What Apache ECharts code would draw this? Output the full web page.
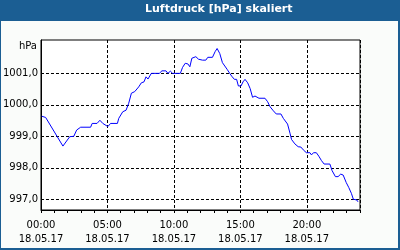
<!DOCTYPE html>
<html>
<head>
<meta charset="utf-8">
<script src="https://cdn.jsdelivr.net/npm/echarts@6/dist/echarts.min.js"></script>
<style>
html,body{margin:0;padding:0;background:#fafcfa;}
#c{width:400px;height:250px;}
</style>
</head>
<body>
<div id="c"></div>
<script>
var titleText = 'Luftdruck [hPa] skaliert';
var unitLabel = 'hPa';
var dateLabel = '18.05.17';
var xTickHours = [0, 5, 10, 15, 20];
var yTickValues = [997, 998, 999, 1000, 1001];
var times = ['00:03','00:21','01:39','02:10','02:28','02:41','02:59','03:44','03:51','04:13','04:26','04:39','05:02','05:14','05:45','05:51','06:09','06:24','06:36','06:48','07:03','07:21','07:33','07:45','07:54','08:03','08:18','08:54','09:06','09:24','09:33','09:44','09:54','10:29','10:39','10:51','11:03','11:12','11:21','11:30','11:39','11:51','12:00','12:09','12:24','12:33','12:54','13:06','13:15','13:27','13:39','13:48','14:00','14:12','14:21','14:33','14:43','14:51','15:03','15:12','15:21','15:33','15:44','15:55','16:06','16:15','16:24','16:51','17:03','17:14','17:29','17:42','18:03','18:14','18:33','18:44','18:51','19:06','19:21','19:33','19:44','19:58','20:14','20:21','20:30','20:43','20:54','21:06','21:18','21:44','21:54','22:09','22:21','22:33','22:44','22:58','23:09','23:21','23:30','23:45','23:51'];
var pressure = [999.64,999.60,998.69,998.99,999.00,999.20,999.29,999.29,999.41,999.41,999.51,999.41,999.31,999.41,999.41,999.57,999.78,999.83,1000.05,1000.37,1000.42,1000.57,1000.70,1000.73,1000.89,1000.82,1001.00,1001.00,1001.08,1001.08,1001.00,1001.07,1001.00,1001.00,1001.19,1001.32,1001.30,1001.21,1001.48,1001.42,1001.53,1001.45,1001.51,1001.42,1001.42,1001.51,1001.51,1001.69,1001.79,1001.63,1001.34,1001.30,1001.13,1001.00,1000.91,1000.81,1000.81,1000.60,1000.60,1000.73,1000.81,1000.70,1000.52,1000.24,1000.28,1000.31,1000.21,1000.21,1000.10,999.94,999.81,999.71,999.71,999.57,999.39,999.10,998.90,998.76,998.67,998.66,998.57,998.48,998.48,998.41,998.48,998.48,998.37,998.23,998.12,998.12,997.91,997.72,997.72,997.80,997.77,997.53,997.38,997.19,997.00,996.98,996.92];

function toHours(s){var p=s.split(':');return (+p[0])+(+p[1])/60;}
var seriesData = times.map(function(t,i){return [toHours(t), pressure[i]];});
function pad(n){return (n<10?'0':'')+n;}

var chart = echarts.init(document.getElementById('c'), null, {renderer:'canvas'});
var font = 'DejaVu Sans';
chart.setOption({
  backgroundColor:'#fafcfa',
  animation:false,
  textStyle:{fontFamily:font},
  graphic:[
    {type:'rect', shape:{x:0,y:0,width:400,height:21}, style:{fill:'#1b5e93'}, z:0},
    {type:'rect', shape:{x:0,y:0,width:399,height:249}, style:{fill:'none', stroke:'#1b5e93', lineWidth:2}, z:0}
  ],
  title:{text:titleText, left:145, top:4, padding:0,
    textStyle:{color:'#ffffff', fontFamily:font, fontSize:11, fontWeight:'bold'}},
  grid:{left:40, top:40, right:40, bottom:40, show:true, borderColor:'#000', borderWidth:1, backgroundColor:'#ffffff'},
  xAxis:[{
    type:'value', min:0, max:24, interval:5, position:'bottom',
    axisLine:{show:true, onZero:false, lineStyle:{color:'#000', width:1}},
    axisTick:{show:false},
    axisLabel:{showMaxLabel:false, color:'#000', fontSize:10, fontFamily:font, lineHeight:14, margin:8,
      formatter:function(v){return pad(v)+':00\n'+dateLabel;}},
    splitLine:{show:true, lineStyle:{color:'#000', type:[3,2], width:1}}
  },{
    type:'value', min:0, max:24, interval:1, position:'bottom', offset:0,
    axisLine:{show:false, onZero:false},
    axisTick:{show:true, inside:false, length:3, lineStyle:{color:'#000'}},
    axisLabel:{show:false},
    splitLine:{show:false}
  }],
  yAxis:{
    type:'value', min:996.66, max:1002.06,
    name:unitLabel, nameLocation:'end', nameGap:-6,
    nameTextStyle:{align:'right', verticalAlign:'middle', padding:[0,4,0,0], color:'#000', fontSize:10, fontFamily:font},
    axisLine:{show:true, lineStyle:{color:'#000'}},
    axisTick:{show:false, customValues:yTickValues},
    axisLabel:{customValues:yTickValues, color:'#000', fontSize:10, fontFamily:font, margin:3,
      formatter:function(v){return v.toFixed(1).replace('.',',');}},
    splitLine:{show:true, lineStyle:{color:'#000', type:[3,2], width:1}}
  },
  series:[{
    type:'line', xAxisIndex:0, data:seriesData, showSymbol:false, symbol:'none',
    lineStyle:{color:'#0000ff', width:1}, z:5
  }]
});
</script>
</body>
</html>
